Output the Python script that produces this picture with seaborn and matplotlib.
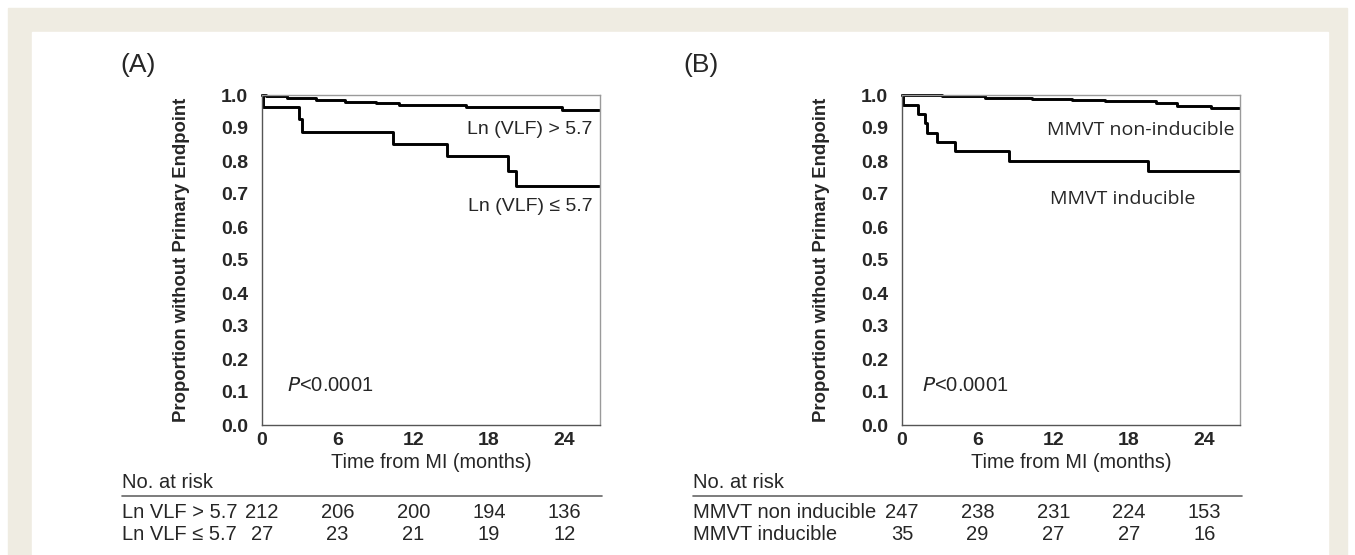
import numpy as np
import pandas as pd
import matplotlib
matplotlib.use("Agg")
import matplotlib.pyplot as plt
import matplotlib.patches as mpatches
import matplotlib.transforms as mtransforms
import seaborn as sns

# Kaplan-Meier step curves (time in months, proportion)
a_high_t = [0, 0.3, 2.0, 4.3, 6.6, 9.0, 10.9, 16.2, 23.8, 26.7]
a_high_s = [1.0, 0.996, 0.991, 0.985, 0.980, 0.975, 0.970, 0.963, 0.955, 0.955]
a_low_t = [0, 0.1, 2.9, 3.2, 10.4, 14.7, 19.5, 20.1, 26.7]
a_low_s = [1.0, 0.963, 0.926, 0.889, 0.852, 0.815, 0.770, 0.725, 0.725]

b_non_t = [0, 3.2, 6.6, 10.3, 13.5, 16.1, 20.1, 21.8, 24.5, 26.7]
b_non_s = [1.0, 0.996, 0.992, 0.988, 0.985, 0.981, 0.975, 0.968, 0.962, 0.962]
b_ind_t = [0, 0.1, 1.3, 1.8, 2.0, 2.8, 4.2, 8.5, 19.5, 26.7]
b_ind_s = [1.0, 0.971, 0.943, 0.914, 0.886, 0.857, 0.829, 0.800, 0.771, 0.771]

risk_times = [0, 6, 12, 18, 24]
a_risk_labels = ["Ln VLF > 5.7", "Ln VLF \u2264 5.7"]
a_risk = [[212, 206, 200, 194, 136], [27, 23, 21, 19, 12]]
b_risk_labels = ["MMVT non inducible", "MMVT inducible"]
b_risk = [[247, 238, 231, 224, 153], [35, 29, 27, 27, 16]]

xticks = [0, 6, 12, 18, 24]
yticks = np.round(np.arange(0, 1.01, 0.1), 1)

sns.set_style("white")
plt.rcParams["font.family"] = ["Liberation Sans", "DejaVu Sans"]

W, H = 1355, 555
fig = plt.figure(figsize=(W / 100, H / 100), dpi=100)
fig.patch.set_facecolor("white")

# beige frame around the white panel
beige = "#efece2"
fig.patches.append(mpatches.Rectangle((8 / W, 0), (1347 - 8) / W, (555 - 8) / H,
                                      transform=fig.transFigure, color=beige, zorder=-2))
fig.patches.append(mpatches.Rectangle((32 / W, 0), (1328 - 32) / W, (555 - 32) / H,
                                      transform=fig.transFigure, color="white", zorder=-1))


def km_panel(left_px, curves, texts, p_x, letter, letter_x, risk_labels, risk_rows, table_x):
    ax = fig.add_axes([left_px / W, 1 - 425 / H, 338 / W, 330 / H])
    for t, s in curves:
        df = pd.DataFrame({"t": t, "s": s})
        sns.lineplot(data=df, x="t", y="s", ax=ax, color="black", lw=2.1,
                     drawstyle="steps-post", estimator=None, sort=False, clip_on=False)
    ax.set_xlim(0, 26.8)
    ax.set_ylim(0, 1.0)
    ax.set_xticks(xticks)
    ax.set_yticks(yticks)
    ax.set_yticklabels([f"{v:.1f}" for v in yticks])
    ax.tick_params(length=0, labelsize=14)
    ax.tick_params(axis="y", pad=10)
    ax.tick_params(axis="x", pad=5)
    for lab in ax.get_xticklabels() + ax.get_yticklabels():
        lab.set_fontweight("bold")
    for side in ["top", "right"]:
        ax.spines[side].set_color("#9a9a9a")
        ax.spines[side].set_linewidth(1.0)
    for side in ["left", "bottom"]:
        ax.spines[side].set_color("#555555")
        ax.spines[side].set_linewidth(1.0)
    ax.set_xlabel("Time from MI (months)", fontsize=14.3, labelpad=3)
    ax.set_ylabel("Proportion without Primary Endpoint", fontsize=13.3, fontweight="bold",
                  labelpad=22)
    for txt, x, y, ha, kw in texts:
        ax.text(x, y, txt, ha=ha, va="center", **kw)
    ax.text(p_x, 0.12, "$\\it{P}$<0.0001", fontsize=14.5, va="center", ha="left")

    fig.text(letter_x / W, 1 - 65 / H, letter, fontsize=19, va="center", ha="left")

    # number at risk table
    fig.text(table_x / W, 1 - 482 / H, "No. at risk", fontsize=14.5, va="center", ha="left")
    fig.add_artist(plt.Line2D([table_x / W, (left_px + 340) / W], [1 - 496 / H, 1 - 496 / H],
                              color="#666666", lw=1.2, transform=fig.transFigure))
    trans = mtransforms.blended_transform_factory(ax.transData, fig.transFigure)
    for i, (lab, row) in enumerate(zip(risk_labels, risk_rows)):
        yy = 1 - (513 + 21 * i) / H
        fig.text(table_x / W, yy, lab, fontsize=14.5, va="center", ha="left")
        for t, n in zip(risk_times, row):
            ax.text(t, yy, str(n), fontsize=14.5, va="center", ha="center",
                    transform=trans, clip_on=False)
    return ax


km_panel(262,
         [(a_high_t, a_high_s), (a_low_t, a_low_s)],
         [("Ln (VLF) > 5.7", 26.2, 0.894, "right", dict(fontsize=14)),
          ("Ln (VLF) \u2264 5.7", 26.2, 0.662, "right", dict(fontsize=14))],
         2.0, "(A)", 120, a_risk_labels, a_risk, 122)

km_panel(902,
         [(b_non_t, b_non_s), (b_ind_t, b_ind_s)],
         [("MMVT non-inducible", 26.4, 0.894, "right", dict(fontsize=14, family="Open Sans")),
          ("MMVT inducible", 11.7, 0.685, "left", dict(fontsize=14, family="Open Sans"))],
         1.6, "(B)", 683, b_risk_labels, b_risk, 693)

fig.savefig("out.png", dpi=100, facecolor=fig.get_facecolor())
